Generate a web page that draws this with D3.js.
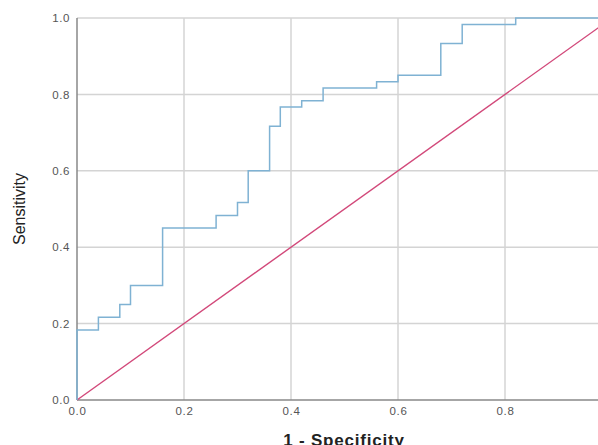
<!DOCTYPE html>
<html>
<head>
<meta charset="utf-8">
<script src="https://cdn.jsdelivr.net/npm/d3@7"></script>
<style>
  body { margin: 0; background: #fff; }
  .tick text { font-family: Arial, "Liberation Sans", sans-serif; fill: #555; }
</style>
</head>
<body>
<script>
'use strict';

// ROC points (1 - specificity, sensitivity), drawn as steps
const fpr  = [0, 0, 0.04, 0.08, 0.10, 0.16, 0.26, 0.30, 0.32, 0.36, 0.38, 0.42, 0.46, 0.56, 0.60, 0.68, 0.72, 0.82, 1];
const sens = [0, 0.1833, 0.2167, 0.25, 0.30, 0.45, 0.4833, 0.5167, 0.60, 0.7167, 0.7667, 0.7833, 0.8167, 0.8333, 0.85, 0.9333, 0.9833, 1, 1];
// reference diagonal
const refX = [0, 1];
const refY = [0, 1];
const ticks = [0, 0.2, 0.4, 0.6, 0.8, 1.0];

const svg = d3.select('body').append('svg')
  .attr('width', 598)
  .attr('height', 445);

// the plot runs past the right edge of the picture, as in the original
let xScale = d3.scaleLinear().domain([0, 1]).range([77, 612]);
let yScale = d3.scaleLinear().domain([0, 1]).range([400, 18]);

// grid
svg.append('g').selectAll('line')
  .data(ticks.slice(1))
  .enter().append('line')
  .attr('x1', d => xScale(d)).attr('x2', d => xScale(d))
  .attr('y1', yScale(0)).attr('y2', yScale(1))
  .attr('stroke', '#d4d4d4').attr('stroke-width', 1.5);

svg.append('g').selectAll('line')
  .data(ticks.slice(1))
  .enter().append('line')
  .attr('x1', xScale(0)).attr('x2', xScale(1))
  .attr('y1', d => yScale(d)).attr('y2', d => yScale(d))
  .attr('stroke', '#d4d4d4').attr('stroke-width', 1.5);

// axes (labels only, lines drawn separately)
let yAxis = d3.axisLeft(yScale).tickValues(ticks).tickSize(0).tickPadding(7).tickFormat(d3.format('.1f'));
svg.append('g')
  .attr('transform', 'translate(' + xScale(0) + ',0)')
  .call(yAxis)
  .call(g => g.select('.domain').remove())
  .selectAll('text').style('font-size', '11.5px').style('letter-spacing', '0.6px');

let xAxis = d3.axisBottom(xScale).tickValues(ticks).tickSize(0).tickPadding(7).tickFormat(d3.format('.1f'));
svg.append('g')
  .attr('transform', 'translate(0,' + yScale(0) + ')')
  .call(xAxis)
  .call(g => g.select('.domain').remove())
  .selectAll('text').style('font-size', '11.5px').style('letter-spacing', '0.6px');

svg.append('line')
  .attr('x1', xScale(0)).attr('x2', xScale(0))
  .attr('y1', yScale(0)).attr('y2', yScale(1))
  .attr('stroke', '#888').attr('stroke-width', 1.5);
svg.append('line')
  .attr('x1', xScale(0)).attr('x2', xScale(1))
  .attr('y1', yScale(0)).attr('y2', yScale(0))
  .attr('stroke', '#888').attr('stroke-width', 1.5);

// reference line
let refLine = d3.line()
  .x((d, i) => xScale(refX[i]))
  .y((d, i) => yScale(refY[i]));
svg.append('path')
  .datum(refX)
  .attr('fill', 'none')
  .attr('stroke', '#d2497a')
  .attr('stroke-width', 1.4)
  .attr('d', refLine);

// ROC curve
let rocLine = d3.line()
  .x((d, i) => xScale(fpr[i]))
  .y((d, i) => yScale(sens[i]))
  .curve(d3.curveStepAfter);
svg.append('path')
  .datum(fpr)
  .attr('fill', 'none')
  .attr('stroke', '#7fb2d3')
  .attr('stroke-width', 1.5)
  .attr('d', rocLine);

// labels
svg.append('text')
  .attr('transform', 'translate(25, 209)rotate(-90)')
  .attr('text-anchor', 'middle')
  .style('font-family', 'Arial, "Liberation Sans", sans-serif')
  .style('font-size', '16px')
  .style('fill', '#222')
  .text('Sensitivity');

svg.append('text')
  .attr('x', 344)
  .attr('y', 446)
  .attr('text-anchor', 'middle')
  .style('font-family', 'Arial, "Liberation Sans", sans-serif')
  .style('font-size', '17px')
  .style('font-weight', 'bold')
  .style('letter-spacing', '0.8px')
  .style('fill', '#222')
  .text('1 - Specificity');
</script>
</body>
</html>
